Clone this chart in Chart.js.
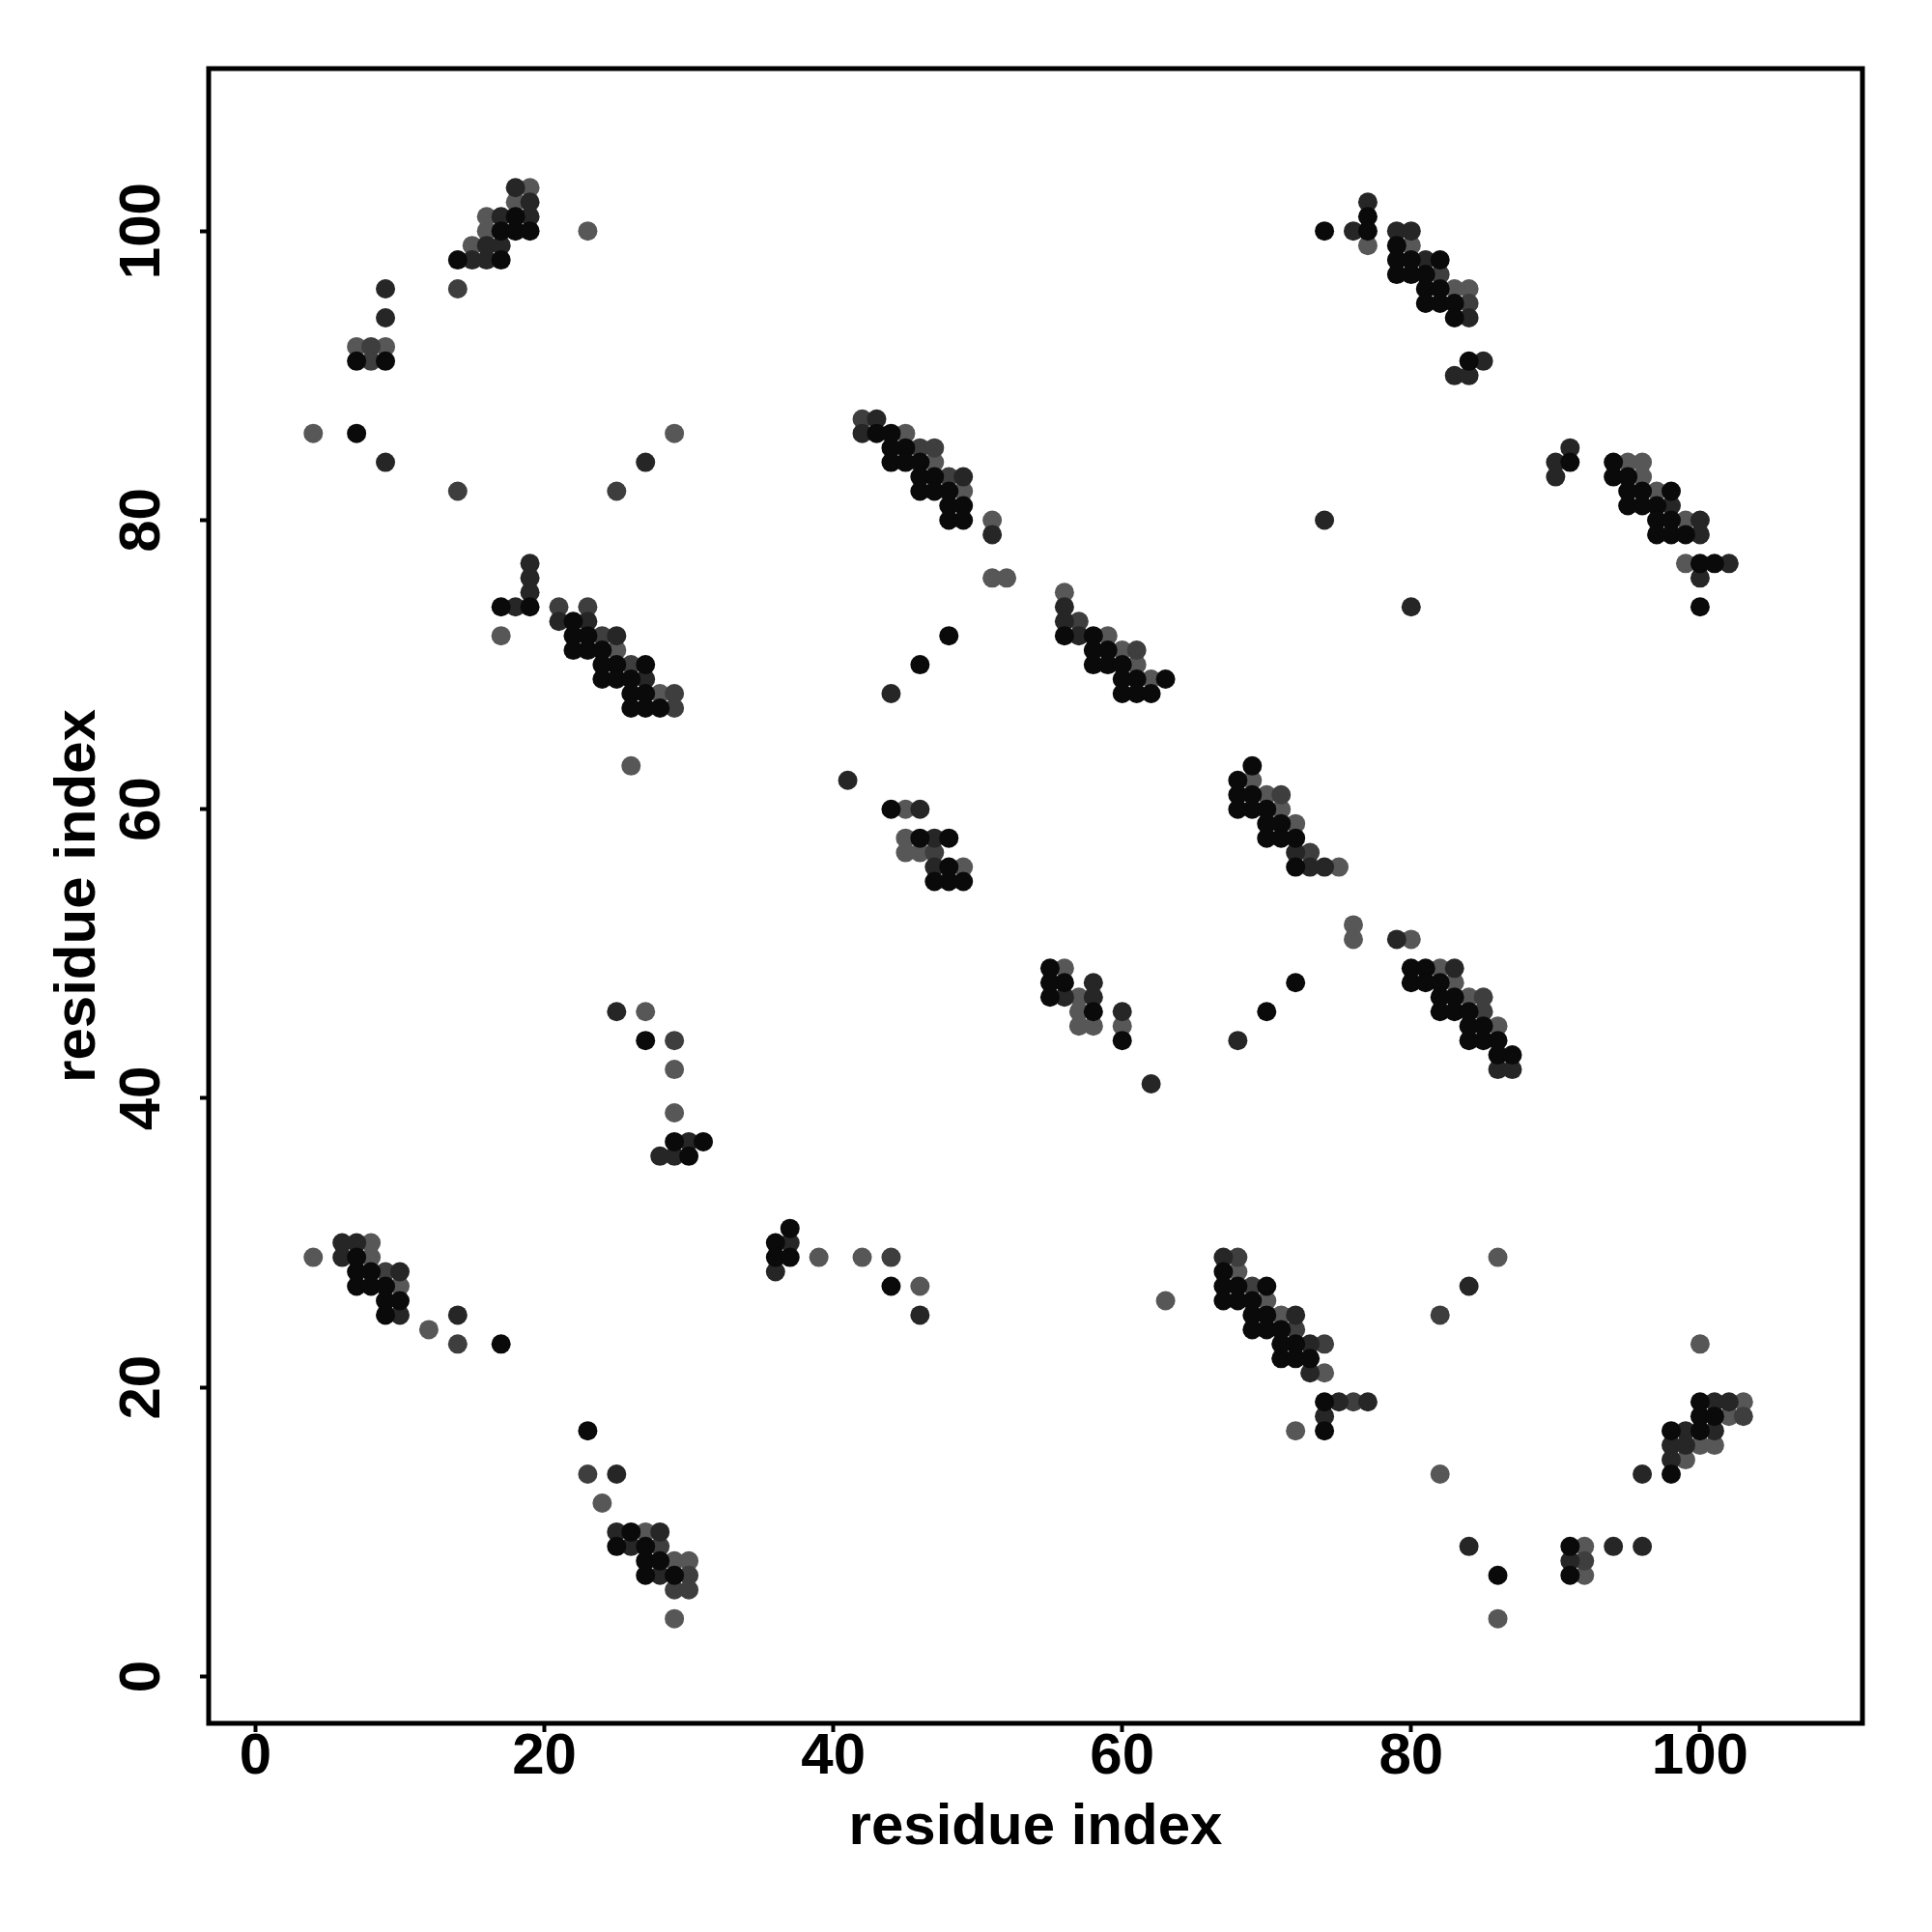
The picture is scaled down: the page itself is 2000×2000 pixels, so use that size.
<!DOCTYPE html>
<html>
<head>
<meta charset="utf-8">
<title>Residue contact map</title>
<script src="https://cdn.jsdelivr.net/npm/chart.js@4.4.1/dist/chart.umd.min.js"></script>
<style>
  html, body { margin: 0; padding: 0; background: #fff; }
  #wrap { width: 2000px; height: 2000px; }
</style>
</head>
<body>
<div id="wrap"><canvas id="contactMap" width="2000" height="2000"></canvas></div>
<script>
// Contact pairs [residue i, residue j], grouped by how dark the dot is
const blackContacts = [
    [7,86],[7,91],[9,91],[14,98],[17,98],[17,100],[18,100],[19,100],[18,101],
    [43,86],[44,86],[44,85],[45,85],[44,84],[45,84],[46,84],[46,83],[47,83],[46,82],[47,82],[48,82],
    [48,81],[49,81],[48,80],[49,80],[56,72],[58,72],[58,71],[59,71],[58,70],[59,70],[60,70],
    [60,69],[61,69],[63,69],[60,68],[61,68],[62,68],[48,72],[46,70],
    [74,100],[77,101],[77,100],[79,99],[79,98],[80,98],[82,98],[79,97],[80,97],[81,97],[81,96],[82,96],
    [81,95],[82,95],[83,95],[83,94],[84,91],[91,84],[94,84],[94,83],[95,83],[95,82],[96,82],[98,82],
    [95,81],[96,81],[97,81],[97,80],[98,80],[97,79],[98,79],[99,79],[100,77],[101,77],[100,74],
    [17,74],[19,74],[22,73],[22,72],[23,72],[22,71],[23,71],[24,71],[24,70],[25,70],[27,70],
    [24,69],[25,69],[26,69],[26,68],[27,68],[26,67],[27,67],[28,67],
    [44,60],[46,58],[48,58],[48,56],[47,55],[48,55],[49,55],[55,49],[55,48],[56,48],[55,47],[58,46],[60,44],
    [69,63],[68,62],[68,61],[69,61],[68,60],[69,60],[70,60],[70,59],[71,59],[70,58],[71,58],[72,58],[72,56],
    [80,49],[81,49],[80,48],[81,48],[82,48],[82,47],[83,47],[82,46],[83,46],[84,46],[84,45],[85,45],
    [84,44],[85,44],[86,44],[86,43],[87,43],[72,48],[70,46],
    [27,44],[29,37],[31,37],[30,36],[7,29],[7,28],[8,28],[7,27],[8,27],[9,27],[9,26],[10,26],[9,25],[17,23],
    [23,17],[26,10],[25,9],[27,9],[27,8],[28,8],[27,7],[29,7],
    [37,31],[36,30],[36,29],[37,29],[44,27],
    [67,28],[67,27],[68,27],[70,27],[67,26],[68,26],[69,26],[69,25],[70,25],[69,24],[70,24],[71,24],
    [71,23],[72,23],[71,22],[72,22],[73,22],[74,19],[74,17],[86,7],
    [100,19],[100,18],[101,18],[98,17],[100,17],[98,14],[91,9],[91,7]
];

const darkContacts = [
    [9,84],[9,94],[9,96],[15,98],[16,98],[16,99],[17,99],[17,101],[19,101],[19,102],[18,103],[27,84],
    [43,87],[42,86],[49,83],[51,79],[56,74],[56,73],[57,72],[44,68],
    [76,100],[77,102],[79,100],[80,100],[81,98],[84,94],[85,91],[83,90],[84,90],[74,80],[80,74],
    [91,85],[90,84],[90,83],[98,81],[100,80],[100,79],[102,77],[100,76],
    [18,74],[19,75],[19,76],[19,77],[21,73],[23,73],[25,72],[27,69],[41,62],
    [46,60],[47,58],[47,56],[58,48],[56,47],[58,47],[60,46],[62,41],
    [72,57],[73,56],[74,56],[79,51],[83,49],[86,42],[87,42],[68,44],
    [25,46],[30,37],[28,36],[29,36],[6,30],[7,30],[6,29],[10,28],[10,25],[14,25],
    [25,14],[25,10],[28,10],[26,9],[28,7],
    [37,30],[36,28],[46,25],
    [67,29],[84,27],[72,25],[73,23],[73,21],[75,19],[77,19],[74,18],[84,9],
    [101,19],[102,19],[101,17],[99,17],[98,16],[99,16],[98,15],[96,14],[94,9],[96,9],[91,8]
];

const midContacts = [
    [8,92],[8,91],[14,96],[14,82],[25,82],
    [42,87],[46,85],[47,85],[48,83],[57,73],[61,71],
    [82,97],[84,95],
    [21,74],[23,74],[24,72],[26,70],[29,68],[29,67],
    [47,57],
    [71,61],[73,57],[85,47],[85,46],
    [29,44],[9,28],[14,23],
    [23,14],[28,9],[30,7],[29,6],[30,6],
    [44,29],
    [68,29],[69,27],[82,25],[72,24],[74,23],[76,19],
    [103,18],[92,8]
];

const grayContacts = [
    [4,86],[29,86],[7,92],[9,92],[15,99],[16,100],[16,101],[18,102],[19,103],[23,100],
    [45,86],[47,84],[49,82],[51,80],[51,76],[52,76],[56,75],[59,72],[60,71],[61,70],[62,69],
    [77,99],[80,99],[83,96],[84,96],[95,84],[96,84],[96,83],[97,82],[99,80],[99,77],
    [17,72],[25,71],[28,68],[26,63],
    [45,60],[45,58],[45,57],[46,57],[49,56],[56,49],[57,47],[57,46],[57,45],[58,45],[60,45],
    [69,62],[70,61],[71,60],[72,59],[75,56],[76,52],[76,51],[80,51],[82,49],[83,48],[84,47],[86,45],
    [27,46],[29,42],[29,39],[4,29],[8,30],[8,29],[10,27],[12,24],
    [24,12],[27,10],[29,8],[30,8],[29,4],
    [39,29],[42,29],[46,27],[63,26],
    [86,29],[68,28],[70,26],[71,25],[74,21],[72,17],[82,14],[86,4],
    [100,23],[103,19],[102,18],[100,16],[101,16],[99,15],[92,9],[92,7]
];

const xTicks = [0, 20, 40, 60, 80, 100];
const yTicks = [0, 20, 40, 60, 80, 100];
const axisMin = -3.24;
const axisMax = 111.24;

const labelFont = { family: 'Liberation Sans', size: 60, weight: 'bold', lineHeight: 1 };
const titleFont = { family: 'Liberation Sans', size: 60, weight: 'bold' };

function toPoints(pairs) {
    return pairs.map(p => ({ x: p[0], y: p[1] }));
}

function contactSet(pairs, color) {
    return {
        data: toPoints(pairs),
        backgroundColor: color,
        borderWidth: 0,
        pointRadius: 10,
        pointHoverRadius: 10
    };
}

// R-style box around the plotting region
const boxPlugin = {
    id: 'box',
    afterDraw(chart) {
        const { ctx, chartArea: a } = chart;
        ctx.save();
        ctx.strokeStyle = '#000';
        ctx.lineWidth = 5;
        ctx.strokeRect(a.left, a.top, a.right - a.left, a.bottom - a.top);
        ctx.restore();
    }
};

const tickGrid = {
    display: true,
    drawOnChartArea: false,
    drawTicks: true,
    tickLength: 9,
    tickWidth: 4,
    tickColor: '#000',
    color: '#000'
};

new Chart(document.getElementById('contactMap').getContext('2d'), {
    type: 'scatter',
    data: {
        datasets: [
            contactSet(blackContacts, '#0a0a0a'),
            contactSet(darkContacts, '#262626'),
            contactSet(midContacts, '#3e3e3e'),
            contactSet(grayContacts, '#575757')
        ]
    },
    options: {
        responsive: false,
        animation: false,
        layout: { padding: { left: 0, top: 71, right: 72, bottom: 0 } },
        plugins: {
            legend: { display: false },
            tooltip: { enabled: false }
        },
        scales: {
            x: {
                type: 'linear',
                min: axisMin,
                max: axisMax,
                afterBuildTicks: s => { s.ticks = xTicks.map(v => ({ value: v })); },
                afterFit: s => { s.height = 216; },
                grid: tickGrid,
                border: { display: false },
                ticks: { color: '#000', font: labelFont, padding: -4, minRotation: 0, maxRotation: 0, autoSkip: false },
                title: { display: true, text: 'residue index', color: '#000', font: titleFont, padding: { top: 0, bottom: 72 } }
            },
            y: {
                type: 'linear',
                min: axisMin,
                max: axisMax,
                afterBuildTicks: s => { s.ticks = yTicks.map(v => ({ value: v })); },
                afterFit: s => { s.width = 216; },
                grid: tickGrid,
                border: { display: false },
                ticks: { color: '#000', font: labelFont, padding: 8, minRotation: 90, maxRotation: 90, crossAlign: 'center', autoSkip: false },
                title: { display: true, text: 'residue index', color: '#000', font: titleFont, padding: { top: 45, bottom: 0 } }
            }
        }
    },
    plugins: [boxPlugin]
});
</script>
</body>
</html>
